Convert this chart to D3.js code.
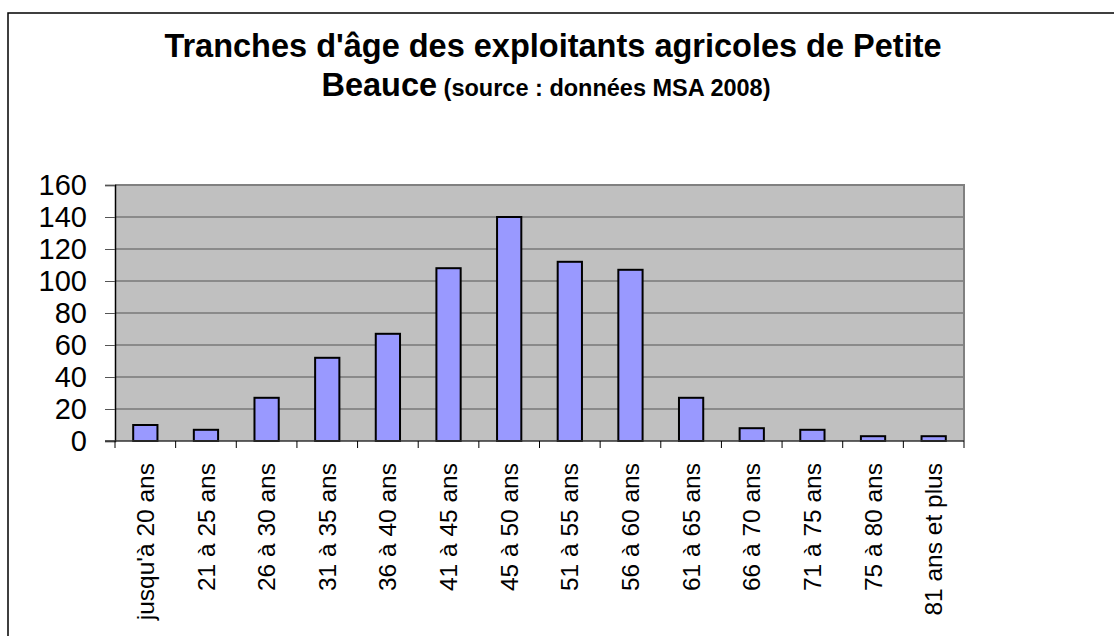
<!DOCTYPE html>
<html>
<head>
<meta charset="utf-8">
<script src="https://cdn.jsdelivr.net/npm/d3@7"></script>
<style>
  html, body { margin: 0; padding: 0; background: #fff; overflow: hidden; }
  svg { display: block; font-family: "Liberation Sans", Arial, sans-serif; }
  .bar { fill: #9999ff; stroke: #000; stroke-width: 2; }
  .grid line { stroke: #555; stroke-width: 1; }
</style>
</head>
<body>
<svg id="chart" width="1114" height="636"></svg>
<script>
var CATEGORIES = [
  "jusqu'à 20 ans", '21 à 25 ans', '26 à 30 ans', '31 à 35 ans',
  '36 à 40 ans', '41 à 45 ans', '45 à 50 ans', '51 à 55 ans',
  '56 à 60 ans', '61 à 65 ans', '66 à 70 ans', '71 à 75 ans',
  '75 à 80 ans', '81 ans et plus'
];
var EXPLOITANTS = [10, 7, 27, 52, 67, 108, 140, 112, 107, 27, 8, 7, 3, 3];
var Y_TICKS = [0, 20, 40, 60, 80, 100, 120, 140, 160];

var TITLE_1 = "Tranches d'âge des exploitants agricoles de Petite";
var TITLE_2 = 'Beauce';
var SUBTITLE = ' (source : données MSA 2008)';

var svg = d3.select('#chart');

// outer frame, runs off the right and bottom of the picture
svg.append('rect')
    .attr('x', 8).attr('y', 13)
    .attr('width', 1300).attr('height', 800)
    .attr('fill', '#fff')
    .attr('stroke', '#000')
    .attr('stroke-width', 1.5);

var plot = { left: 115, top: 185, right: 964, bottom: 441 };

var x = d3.scaleBand()
    .domain(CATEGORIES)
    .range([plot.left, plot.right])
    .paddingInner(0.6)
    .paddingOuter(0.3);

var y = d3.scaleLinear()
    .domain([0, 160])
    .range([plot.bottom, plot.top]);

// ----- Title ----------------------------------------------------------------
svg.append('text')
    .attr('x', 553).attr('y', 57)
    .attr('text-anchor', 'middle')
    .attr('font-size', 32.5)
    .attr('font-weight', 'bold')
    .text(TITLE_1);

var t2 = svg.append('text')
    .attr('x', 546).attr('y', 96)
    .attr('text-anchor', 'middle')
    .attr('font-weight', 'bold');
t2.append('tspan').attr('font-size', 32.5).text(TITLE_2);
t2.append('tspan').attr('font-size', 23.5).text(SUBTITLE);

// ----- Plot area ------------------------------------------------------------
svg.append('rect')
    .attr('x', plot.left).attr('y', plot.top)
    .attr('width', plot.right - plot.left)
    .attr('height', plot.bottom - plot.top)
    .attr('fill', '#c0c0c0');

svg.append('g')
    .attr('class', 'grid')
  .selectAll('line')
    .data(Y_TICKS.slice(1, -1))
  .enter().append('line')
    .attr('x1', plot.left).attr('x2', plot.right)
    .attr('y1', (d) => y(d)).attr('y2', (d) => y(d));

// top and right edges of the plot
svg.append('path')
    .attr('d', 'M' + plot.left + ',' + plot.top + 'H' + plot.right + 'V' + plot.bottom)
    .attr('fill', 'none')
    .attr('stroke', '#808080')
    .attr('stroke-width', 2);

svg.selectAll('.bar')
    .data(EXPLOITANTS)
  .enter().append('rect')
    .attr('class', 'bar')
    .attr('x', (d, i) => x(CATEGORIES[i]))
    .attr('y', (d) => y(d))
    .attr('width', x.bandwidth())
    .attr('height', (d) => y(0) - y(d));

// ----- Axes -----------------------------------------------------------------
var yAxis = svg.append('g')
    .attr('transform', 'translate(' + plot.left + ',0)')
    .call(d3.axisLeft(y).tickValues(Y_TICKS).tickSize(10).tickPadding(18));
yAxis.select('.domain').attr('stroke', '#000').attr('stroke-width', 1.5);
yAxis.selectAll('.tick line').attr('stroke', '#555');
yAxis.selectAll('.tick text')
    .attr('font-size', 29)
    .attr('font-family', '"Liberation Sans", Arial, sans-serif')
    .attr('fill', '#000');

// x ticks sit on the category boundaries
var step = x.step();
var bounds = CATEGORIES.map((c) => x(c) - (step - x.bandwidth()) / 2);
bounds.push(plot.right);

svg.append('line')
    .attr('x1', plot.left - 10).attr('x2', plot.right)
    .attr('y1', plot.bottom).attr('y2', plot.bottom)
    .attr('stroke', '#333').attr('stroke-width', 1.5);

svg.append('g').selectAll('line')
    .data(bounds)
  .enter().append('line')
    .attr('x1', (d) => d).attr('x2', (d) => d)
    .attr('y1', plot.bottom).attr('y2', plot.bottom + 7)
    .attr('stroke', '#000').attr('stroke-width', 1);

svg.append('g').selectAll('text')
    .data(CATEGORIES)
  .enter().append('text')
    .attr('transform', (d) => 'translate(' + (x(d) + x.bandwidth() / 2) + ',' + 463 + ') rotate(-90)')
    .attr('text-anchor', 'end')
    .attr('dy', '0.35em')
    .attr('font-size', 24.5)
    .text((d) => d);
</script>
</body>
</html>
